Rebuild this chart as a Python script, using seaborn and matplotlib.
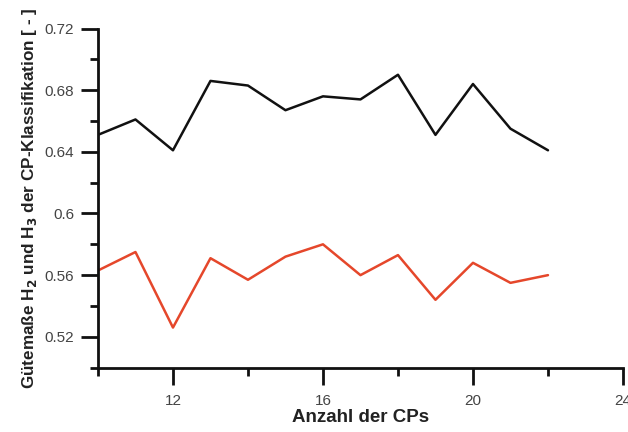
import matplotlib
matplotlib.use("Agg")
import matplotlib.pyplot as plt
import seaborn as sns
import pandas as pd
from matplotlib.ticker import MultipleLocator

n_cps = [10, 11, 12, 13, 14, 15, 16, 17, 18, 19, 20, 21, 22]
h_black = [0.651, 0.661, 0.641, 0.686, 0.683, 0.667, 0.676, 0.674, 0.690, 0.651, 0.684, 0.655, 0.641]
h_red = [0.563, 0.575, 0.526, 0.571, 0.557, 0.572, 0.580, 0.560, 0.573, 0.544, 0.568, 0.555, 0.560]

sns.set_theme(style="ticks")
plt.rcParams['font.family'] = ['Liberation Sans', 'DejaVu Sans']

df = pd.DataFrame({"n": n_cps, "black": h_black, "red": h_red})

fig = plt.figure(figsize=(6.28, 4.32), dpi=100)
ax = fig.add_axes([0.156, 0.149, 0.836, 0.785])

sns.lineplot(data=df, x="n", y="black", ax=ax, color="#111111", linewidth=1.8)
sns.lineplot(data=df, x="n", y="red", ax=ax, color="#E5472B", linewidth=1.8)

ax.set_xlim(10, 24)
ax.set_ylim(0.50, 0.72)
ax.xaxis.set_minor_locator(MultipleLocator(2))
ax.yaxis.set_minor_locator(MultipleLocator(0.02))
ax.set_xticks([12, 16, 20, 24])
ax.set_xticklabels(["12", "16", "20", "24"])
ax.set_yticks([0.52, 0.56, 0.60, 0.64, 0.68, 0.72])
ax.set_yticklabels(["0.52", "0.56", "0.6", "0.64", "0.68", "0.72"])

for side in ["top", "right"]:
    ax.spines[side].set_visible(False)
for side in ["left", "bottom"]:
    ax.spines[side].set_linewidth(2)
    ax.spines[side].set_color("#111111")

ax.tick_params(axis="both", which="major", direction="out", length=12, width=2,
               color="#111111", labelsize=11, labelcolor="#444444")
ax.tick_params(axis="x", which="major", pad=7)
ax.tick_params(axis="y", which="major", pad=5)
ax.tick_params(axis="both", which="minor", direction="out", length=6, width=2,
               color="#111111")

ax.set_xlabel("Anzahl der CPs", fontsize=13.5, fontweight="bold", color="#222222", labelpad=1)
ax.set_ylabel(r"Gütemaße H$_\mathbf{2}$ und H$_\mathbf{3}$ der CP-Klassifikation [ - ]",
              fontsize=12.3, fontweight="bold", color="#222222", labelpad=4)

fig.savefig("out.png", dpi=100)
